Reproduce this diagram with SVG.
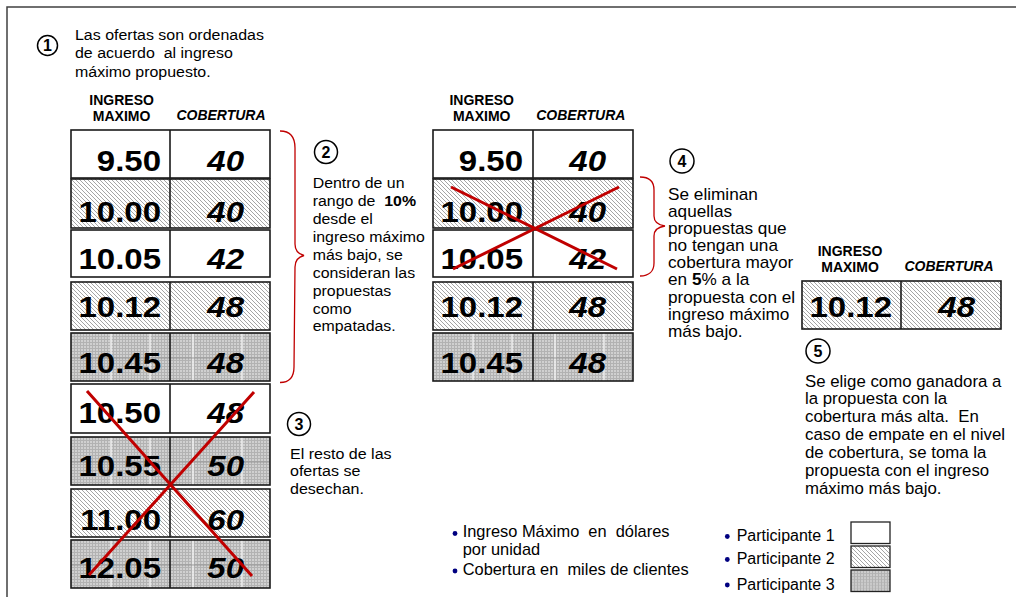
<svg xmlns="http://www.w3.org/2000/svg" width="1016" height="597" viewBox="0 0 1016 597">
<defs>
<pattern id="hatch" patternUnits="userSpaceOnUse" width="4" height="4">
<rect width="4" height="4" fill="#fff"/>
<path d="M-1,-1 L5,5 M3,-1 L5,1 M-1,3 L1,5" stroke="#8e8e8e" stroke-width="0.8"/>
</pattern>
<pattern id="dots" patternUnits="userSpaceOnUse" width="3" height="3">
<rect width="3" height="3" fill="#d0d0d0"/>
<rect width="3" height="1" fill="#b2b2b2"/>
<rect width="1" height="3" fill="#b2b2b2"/>
</pattern>
<pattern id="p3" patternUnits="objectBoundingBox" width="1" height="1">
<rect width="210" height="60" fill="url(#dots)"/>
<path d="M40,0 V60 M79,0 V60 M122,0 V60 M171,0 V60" stroke="#f6f6f6" stroke-width="1.3"/>
<path d="M0,25 H210" stroke="#8c8c8c" stroke-width="0.8"/>
</pattern>
</defs>
<style>
.tx{font-family:"Liberation Sans",Arial,sans-serif;fill:#000}
.num{font-size:30px;font-weight:bold;text-anchor:end}
.cov{font-size:30px;font-weight:bold;font-style:italic;text-anchor:end}
.hd{font-size:14px;font-weight:bold;text-anchor:middle}
.it{font-style:italic}
.cell{stroke:#1a1a1a;stroke-width:1.6}
.w{fill:#fff}
.h{fill:url(#hatch)}
.g{fill:url(#p3)}
.circ{fill:#fff;stroke:#000;stroke-width:1.5}
.cn{font-size:16px;font-weight:bold;text-anchor:middle}
.pre{white-space:pre}
.red{stroke:#c00000;fill:none}
.bul{fill:#000080}
.lg{stroke:#222;stroke-width:1.3}
</style>

<path d="M7,597 V7 H1016" fill="none" stroke="#404040" stroke-width="1.5"/>

<g id="step1">
<circle class="circ" cx="47.5" cy="45.5" r="10"/>
<text class="tx cn" x="47.5" y="51.3">1</text>
<text class="tx pre" font-size="15.5" transform="translate(75,40) scale(1.03,1)"><tspan x="0" dy="0">Las ofertas son ordenadas</tspan><tspan x="0" dy="18.5">de acuerdo  al ingreso</tspan><tspan x="0" dy="18.5">máximo propuesto.</tspan></text>
</g>

<g id="table1-header">
<text class="tx hd" x="121.6" y="105">INGRESO</text>
<text class="tx hd" x="121.6" y="121">MAXIMO</text>
<text class="tx hd it" x="221" y="119.5">COBERTURA</text>
</g>
<g id="t1r1"><rect class="cell w" x="71" y="130" width="199" height="48"/><line class="cell" x1="170" y1="130" x2="170" y2="178"/><text class="tx num" transform="translate(161,171) scale(1.1,1)">9.50</text><text class="tx cov" transform="translate(244,171) scale(1.1,1)">40</text></g>
<g id="t1r2"><rect class="cell h" x="71" y="179" width="199" height="49"/><line class="cell" x1="170" y1="179" x2="170" y2="228"/><text class="tx num" transform="translate(161,222) scale(1.1,1)">10.00</text><text class="tx cov" transform="translate(244,222) scale(1.1,1)">40</text></g>
<g id="t1r3"><rect class="cell w" x="71" y="230" width="199" height="47"/><line class="cell" x1="170" y1="230" x2="170" y2="277"/><text class="tx num" transform="translate(161,268.5) scale(1.1,1)">10.05</text><text class="tx cov" transform="translate(244,268.5) scale(1.1,1)">42</text></g>
<g id="t1r4"><rect class="cell h" x="71" y="282" width="199" height="48"/><line class="cell" x1="170" y1="282" x2="170" y2="330"/><text class="tx num" transform="translate(161,317) scale(1.1,1)">10.12</text><text class="tx cov" transform="translate(244,317) scale(1.1,1)">48</text></g>
<g id="t1r5"><rect class="cell g" x="71" y="333" width="199" height="48"/><line class="cell" x1="170" y1="333" x2="170" y2="381"/><text class="tx num" transform="translate(161,372.5) scale(1.1,1)">10.45</text><text class="tx cov" transform="translate(244,372.5) scale(1.1,1)">48</text></g>
<g id="t1r6"><rect class="cell w" x="71" y="384" width="199" height="49"/><line class="cell" x1="170" y1="384" x2="170" y2="433"/><text class="tx num" transform="translate(161,423) scale(1.1,1)">10.50</text><text class="tx cov" transform="translate(244,423) scale(1.1,1)">48</text></g>
<g id="t1r7"><rect class="cell g" x="71" y="437" width="199" height="48"/><line class="cell" x1="170" y1="437" x2="170" y2="485"/><text class="tx num" transform="translate(161,476) scale(1.1,1)">10.55</text><text class="tx cov" transform="translate(244,476) scale(1.1,1)">50</text></g>
<g id="t1r8"><rect class="cell h" x="71" y="489" width="199" height="48"/><line class="cell" x1="170" y1="489" x2="170" y2="537"/><text class="tx num" transform="translate(161,530) scale(1.1,1)">11.00</text><text class="tx cov" transform="translate(244,530) scale(1.1,1)">60</text></g>
<g id="t1r9"><rect class="cell g" x="71" y="540" width="199" height="48"/><line class="cell" x1="170" y1="540" x2="170" y2="588"/><text class="tx num" transform="translate(161,578) scale(1.1,1)">12.05</text><text class="tx cov" transform="translate(244,578) scale(1.1,1)">50</text></g>

<g id="step2">
<circle class="circ" cx="326" cy="152" r="11.5"/>
<text class="tx cn" x="326" y="157.8">2</text>
<text class="tx pre" font-size="15" transform="translate(312.7,188.3) scale(1.06,1)"><tspan x="0" dy="0">Dentro de un</tspan><tspan x="0" dy="17.9">rango de  <tspan font-weight="bold">10%</tspan></tspan><tspan x="0" dy="17.9">desde el</tspan><tspan x="0" dy="17.9">ingreso máximo</tspan><tspan x="0" dy="17.9">más bajo, se</tspan><tspan x="0" dy="17.9">consideran las</tspan><tspan x="0" dy="17.9">propuestas</tspan><tspan x="0" dy="17.9">como</tspan><tspan x="0" dy="17.9">empatadas.</tspan></text>
</g>

<g id="step3">
<circle class="circ" cx="299" cy="424" r="11.5"/>
<text class="tx cn" x="299" y="429.8">3</text>
<text class="tx" font-size="15" transform="translate(290,458.5) scale(1.07,1)"><tspan x="0" dy="0">El resto de las</tspan><tspan x="0" dy="18">ofertas se</tspan><tspan x="0" dy="18">desechan.</tspan></text>
</g>

<g id="table2-header">
<text class="tx hd" x="481.7" y="105">INGRESO</text>
<text class="tx hd" x="481.7" y="121">MAXIMO</text>
<text class="tx hd it" x="580.8" y="119.5">COBERTURA</text>
</g>
<g id="t2r1"><rect class="cell w" x="433" y="130" width="200" height="48"/><line class="cell" x1="533" y1="130" x2="533" y2="178"/><text class="tx num" transform="translate(523,171) scale(1.1,1)">9.50</text><text class="tx cov" transform="translate(606,171) scale(1.1,1)">40</text></g>
<g id="t2r2"><rect class="cell h" x="433" y="179" width="200" height="49"/><line class="cell" x1="533" y1="179" x2="533" y2="228"/><text class="tx num" transform="translate(523,222) scale(1.1,1)">10.00</text><text class="tx cov" transform="translate(606,222) scale(1.1,1)">40</text></g>
<g id="t2r3"><rect class="cell w" x="433" y="230" width="200" height="47"/><line class="cell" x1="533" y1="230" x2="533" y2="277"/><text class="tx num" transform="translate(523,268.5) scale(1.1,1)">10.05</text><text class="tx cov" transform="translate(606,268.5) scale(1.1,1)">42</text></g>
<g id="t2r4"><rect class="cell h" x="433" y="282" width="200" height="48"/><line class="cell" x1="533" y1="282" x2="533" y2="330"/><text class="tx num" transform="translate(523,317) scale(1.1,1)">10.12</text><text class="tx cov" transform="translate(606,317) scale(1.1,1)">48</text></g>
<g id="t2r5"><rect class="cell g" x="433" y="333" width="200" height="48"/><line class="cell" x1="533" y1="333" x2="533" y2="381"/><text class="tx num" transform="translate(523,372.5) scale(1.1,1)">10.45</text><text class="tx cov" transform="translate(606,372.5) scale(1.1,1)">48</text></g>

<g id="step4">
<circle class="circ" cx="682" cy="161" r="12"/>
<text class="tx cn" x="682" y="166.8">4</text>
<text class="tx" font-size="16" transform="translate(668,200) scale(1.075,1)"><tspan x="0" dy="0">Se eliminan</tspan><tspan x="0" dy="17.1">aquellas</tspan><tspan x="0" dy="17.1">propuestas que</tspan><tspan x="0" dy="17.1">no tengan una</tspan><tspan x="0" dy="17.1">cobertura mayor</tspan><tspan x="0" dy="17.1">en <tspan font-weight="bold">5</tspan>% a la</tspan><tspan x="0" dy="17.1">propuesta con el</tspan><tspan x="0" dy="17.1">ingreso máximo</tspan><tspan x="0" dy="17.1">más bajo.</tspan></text>
</g>

<g id="table3-header">
<text class="tx hd" x="850" y="256">INGRESO</text>
<text class="tx hd" x="850" y="272">MAXIMO</text>
<text class="tx hd it" x="949" y="271">COBERTURA</text>
</g>
<g id="t3r1"><rect class="cell h" x="802" y="281" width="199" height="48"/><line class="cell" x1="901" y1="281" x2="901" y2="329"/><text class="tx num" transform="translate(892,317.3) scale(1.1,1)">10.12</text><text class="tx cov" transform="translate(975,317.3) scale(1.1,1)">48</text></g>

<g id="step5">
<circle class="circ" cx="818" cy="351" r="12"/>
<text class="tx cn" x="818" y="356.8">5</text>
<text class="tx pre" font-size="16.5" transform="translate(805,386.5) scale(1.02,1)"><tspan x="0" dy="0">Se elige como ganadora a</tspan><tspan x="0" dy="17.9">la propuesta con la</tspan><tspan x="0" dy="17.9">cobertura más alta.  En</tspan><tspan x="0" dy="17.9">caso de empate en el nivel</tspan><tspan x="0" dy="17.9">de cobertura, se toma la</tspan><tspan x="0" dy="17.9">propuesta con el ingreso</tspan><tspan x="0" dy="17.9">máximo más bajo.</tspan></text>
</g>

<g id="connectors">
<path class="red" stroke-width="1.3" d="M280,131 C290,131 295,137 295,148 L295,244 C295,251 298,254 304,255.5 C298,257 295,260 295,267 L294,367 C294,377 290,382.5 280,382.5"/>
<path class="red" stroke-width="1.3" d="M640,177 C649,177 654,181 654,190 L654,216 C654,222 658,225 665,226 C658,227 654,230 654,236 L654,263 C654,271 649,276 640,276"/>
<path class="red" stroke-width="3" d="M87,391 L252,576 M254,392 L89,575"/>
<path class="red" stroke-width="3" d="M451,187 L617,269 M619,187 L453,269"/>
</g>

<g id="legend-units">
<circle class="bul" cx="455" cy="533.5" r="2.4"/>
<text class="tx pre" font-size="16" transform="translate(462.7,537) scale(1.025,1)"><tspan x="0" dy="0">Ingreso Máximo  en  dólares</tspan><tspan x="0" dy="18.3">por unidad</tspan></text>
<circle class="bul" cx="455" cy="571" r="2.4"/>
<text class="tx pre" font-size="16" transform="translate(462.7,575) scale(1.025,1)">Cobertura en  miles de clientes</text>
</g>
<g id="legend-p1">
<circle class="bul" cx="727.3" cy="536.5" r="2.4"/>
<text class="tx" font-size="16" x="736.7" y="541">Participante 1</text>
<rect class="lg w" x="851" y="522" width="39" height="21.5"/>
</g>
<g id="legend-p2">
<circle class="bul" cx="727.3" cy="559.5" r="2.4"/>
<text class="tx" font-size="16" x="736.7" y="564">Participante 2</text>
<rect class="lg h" x="851" y="546" width="39" height="21.5"/>
</g>
<g id="legend-p3">
<circle class="bul" cx="727.3" cy="585" r="2.4"/>
<text class="tx" font-size="16" x="736.7" y="589.5">Participante 3</text>
<rect class="lg g" x="851" y="570" width="39" height="21.5"/>
</g>
</svg>
